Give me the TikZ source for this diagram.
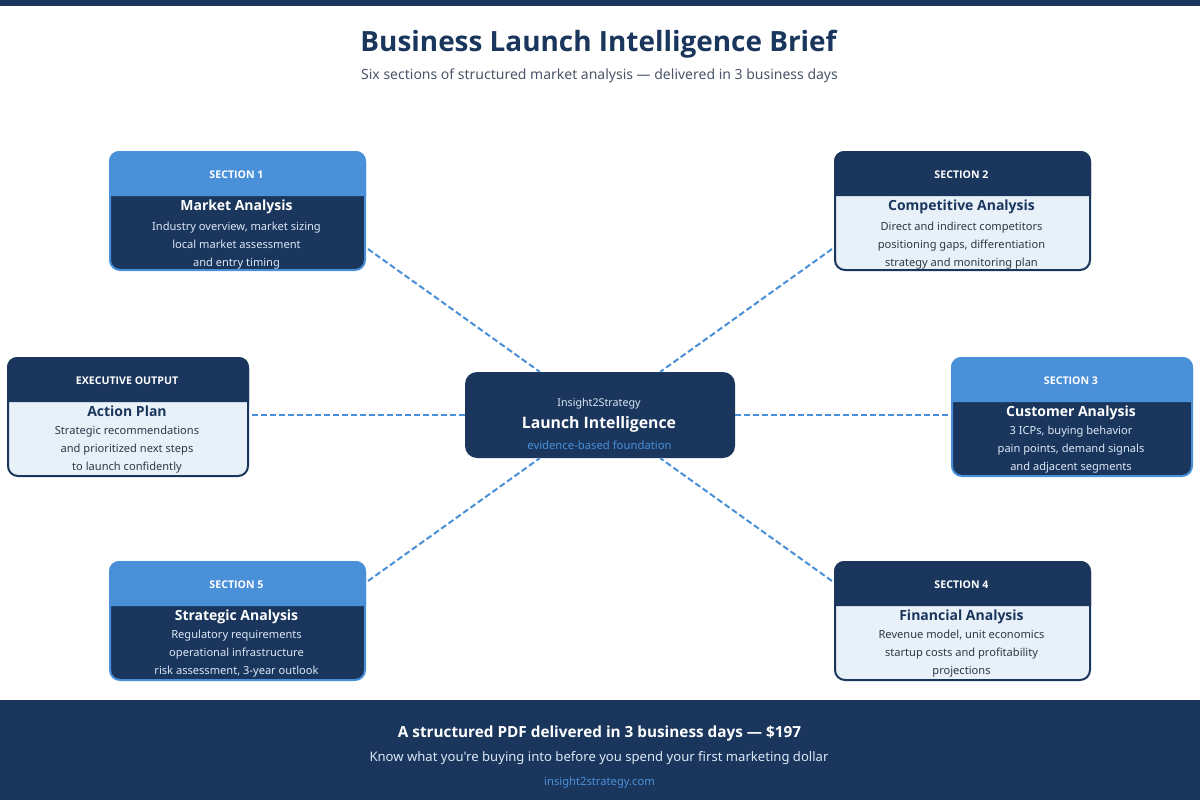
\documentclass[tikz,border=0pt]{standalone}
\usepackage{fontspec}
\setmainfont{Noto Sans}[BoldFont={Open Sans Bold}]
\newfontfamily\plainfont{Noto Sans}
\definecolor{navy}{HTML}{1A365D}
\definecolor{accent}{HTML}{4A90D9}
\definecolor{pale}{HTML}{E8F0F8}
\definecolor{mist}{HTML}{DCE9F6}
\definecolor{slate}{HTML}{2D3748}
\definecolor{greyish}{HTML}{4A5568}
\newcommand{\px}[1]{\fontsize{#1}{#1}\selectfont}
\tikzset{
  txt/.style={inner sep=0pt, anchor=base},
  cardA/.style={draw=accent, line width=2pt, fill=navy, rounded corners=10pt, minimum height=118pt},
  cardB/.style={draw=navy, line width=2pt, fill=pale, rounded corners=10pt, minimum height=118pt},
  headA/.style={fill=accent},
  headB/.style={fill=navy},
  titleA/.style={txt, white, font=\px{14}\bfseries},
  titleB/.style={txt, navy, font=\px{14}\bfseries},
  bodyA/.style={txt, mist, font=\px{11.1}},
  bodyB/.style={txt, slate, font=\px{11.1}},
  link/.style={accent, line width=2pt, dash pattern=on 6pt off 3pt},
}
% card contents: name, scheme, head, title, three lines, offset of the lines
\newcommand{\cardtext}[8]{
  \fill[head#2] ([yshift=-45pt]#1.north west) [rounded corners=10pt] -- (#1.north west) -- (#1.north east) [sharp corners] -- ([yshift=-45pt]#1.north east) -- cycle;
  \path (#1.north) ++(-1,27) node[txt, white, font=\px{10.6}\bfseries] (#1head) {#3};
  \path (#1.north) ++(-1,59) node[title#2] (#1title) {#4};
  \path (#1.north) ++(-1,#8) node[body#2] (#1a) {#5};
  \path (#1.north) ++(-1,#8+18) node[body#2] (#1b) {#6};
  \path (#1.north) ++(-1,#8+36) node[body#2] (#1c) {#7};
}
\begin{document}
\begin{tikzpicture}[x=1pt, y=-1pt]
\useasboundingbox (0,0) rectangle (1200,800);

% bands
\fill[navy] (0,0) rectangle (1200,6);
\fill[navy] (0,700) rectangle (1200,800);

\node[txt, navy, font=\px{27.9}\bfseries] (heading) at (598.5,52) {Business Launch Intelligence Brief};
\node[txt, greyish, font=\px{14}] (subheading) at (599.5,80) {Six sections of structured market analysis — delivered in 3 business days};

% hub
\node[fill=navy, rounded corners=12pt, minimum width=270pt, minimum height=86pt, inner sep=0pt] (hub) at (600,415) {};
\node[txt, mist, font=\px{10.7}] (hubtop) at (599,406) {Insight2Strategy};
\node[txt, white, font=\px{15.8}\bfseries] (hubname) at (599,428) {Launch Intelligence};
\node[txt, accent, font=\px{11.3}] (hubnote) at (599.5,449) {evidence-based foundation};

% cards
\node[cardA, minimum width=255pt] (sec1) at (237.5,211) {};
\cardtext{sec1}{A}{SECTION 1}{Market Analysis}{Industry overview, market sizing}{local market assessment}{and entry timing}{79}
\node[cardB, minimum width=255pt] (sec2) at (962.5,211) {};
\cardtext{sec2}{B}{SECTION 2}{Competitive Analysis}{Direct and indirect competitors}{positioning gaps, differentiation}{strategy and monitoring plan}{79}
\node[cardA, minimum width=240pt] (sec3) at (1072,417) {};
\cardtext{sec3}{A}{SECTION 3}{Customer Analysis}{3 ICPs, buying behavior}{pain points, demand signals}{and adjacent segments}{77}
\node[cardB, minimum width=255pt] (sec4) at (962.5,621) {};
\cardtext{sec4}{B}{SECTION 4}{Financial Analysis}{Revenue model, unit economics}{startup costs and profitability}{projections}{77}
\node[cardA, minimum width=255pt] (sec5) at (237.5,621) {};
\cardtext{sec5}{A}{SECTION 5}{Strategic Analysis}{Regulatory requirements}{operational infrastructure}{risk assessment, 3-year outlook}{77}
\node[cardB, minimum width=240pt] (exec) at (128,417) {};
\cardtext{exec}{B}{EXECUTIVE OUTPUT}{Action Plan}{Strategic recommendations}{and prioritized next steps}{to launch confidently}{77}

% connectors
\coordinate (out1) at (368,249);
\coordinate (out2) at (832,249);
\coordinate (out3) at (948,415);
\coordinate (out4) at (832,581);
\coordinate (out5) at (368,581);
\coordinate (out6) at (252,415);
\foreach \i in {1,...,6}
  \draw[link] (out\i) -- (hub);

% footer
\node[txt, white, font=\px{15.3}\bfseries] (offer) at (599.5,737) {A structured PDF delivered in 3 business days — \$197};
\node[txt, mist, font=\plainfont\px{13.1}] (pitch) at (599,761) {Know what you're buying into before you spend your first marketing dollar};
\node[txt, accent, font=\px{11.2}] (site) at (599.5,785) {insight2strategy.com};
\end{tikzpicture}
\end{document}
